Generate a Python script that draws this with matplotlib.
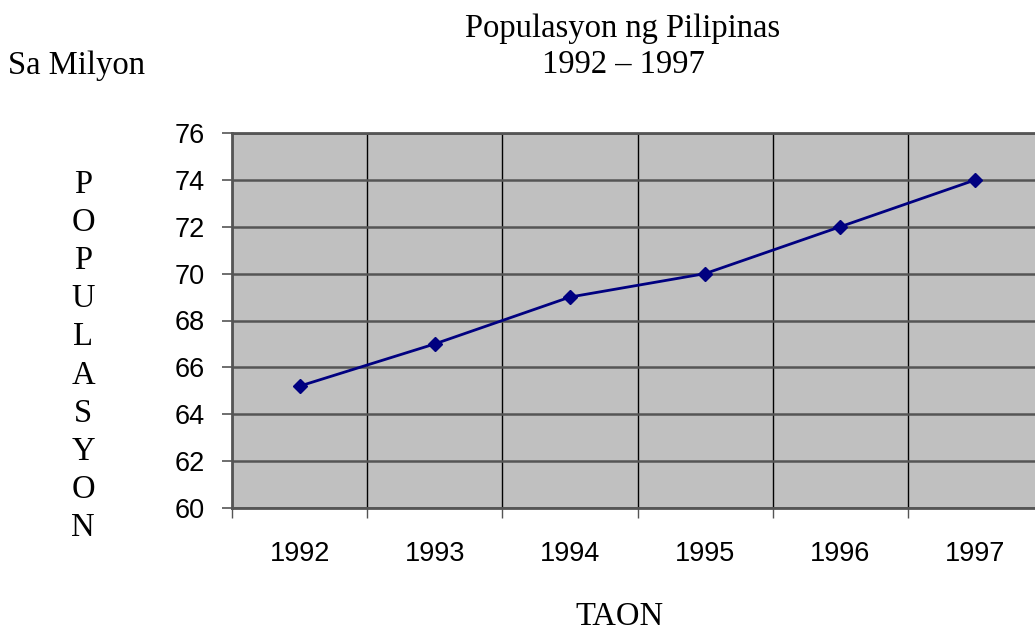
import numpy as np
import matplotlib.pyplot as plt

years = ['1992', '1993', '1994', '1995', '1996', '1997']
population = [65.2, 67, 69, 70, 72, 74]
y_ticks = [60, 62, 64, 66, 68, 70, 72, 74, 76]

W, H = 1035, 633
fig = plt.figure(figsize=(W / 100, H / 100), dpi=100)
ax = fig.add_axes([232 / W, 125 / H, 811 / W, 375 / H])
ax.set_facecolor('#c0c0c0')

x = np.arange(len(years))
ax.plot(x, population, color='#000080', lw=2, marker='D', ms=7, zorder=3)

ax.set_xlim(-0.5, len(years) - 0.5)
ax.set_ylim(60, 76)
ax.set_yticks(y_ticks)
ax.set_xticks(x)
ax.set_xticklabels(years)
ax.set_xticks(np.arange(len(years) + 1) - 0.5, minor=True)

ax.grid(axis='y', color='#555555', lw=1.8)
ax.grid(axis='x', which='minor', color='black', lw=1)
ax.set_axisbelow(True)

ax.tick_params(axis='x', which='major', length=0, pad=24, labelsize=19.5)
ax.tick_params(axis='x', which='minor', length=7.5, width=1, color='#555555')
ax.tick_params(axis='y', length=7.5, width=1.2, color='#555555', pad=12, labelsize=19.5)
for lbl in ax.get_xticklabels() + ax.get_yticklabels():
    lbl.set_family('Liberation Sans')

ax.spines['right'].set_visible(False)
for s in ['left', 'bottom', 'top']:
    ax.spines[s].set_color('#555555')
    ax.spines[s].set_linewidth(2)


def label(px, py, s, ha='center'):
    # py is the baseline, in pixels from the top
    fig.text(px / W, 1 - py / H, s, family='Liberation Serif', fontsize=23.5,
             ha=ha, va='baseline')


label(623, 37, 'Populasyon ng Pilipinas')
label(623, 73, '1992 – 1997')
label(8, 74, 'Sa Milyon', ha='left')
label(620, 625, 'TAON')
for i, ch in enumerate('POPULASYON'):
    label(83, 193 + 38.1 * i, ch)

fig.savefig('out.png', dpi=100)
